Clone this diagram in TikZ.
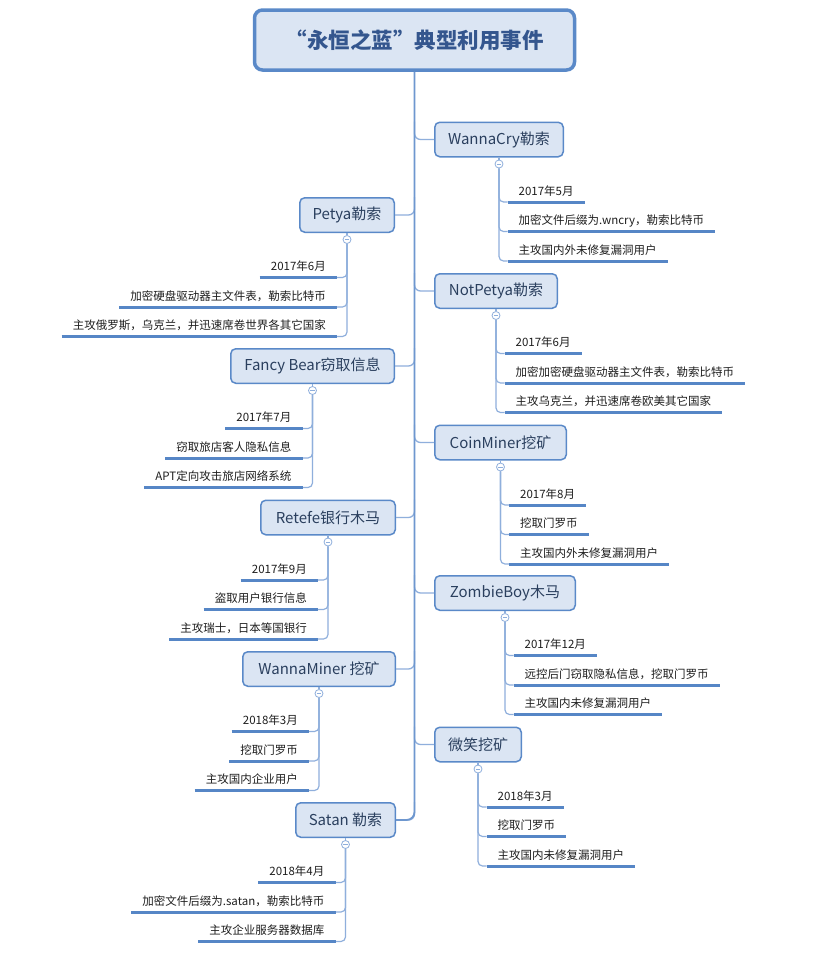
\documentclass[tikz,border=0pt]{standalone}
\usepackage{fontspec}
\setmainfont{Noto Sans CJK SC}
\usetikzlibrary{calc}
\definecolor{boxfill}{HTML}{DBE5F3}
\definecolor{boxline}{HTML}{5A89C8}
\definecolor{trunkc}{HTML}{6E97CF}
\definecolor{connc}{HTML}{8FAFDC}
\definecolor{ulc}{HTML}{5686C6}
\definecolor{titletext}{HTML}{34568E}
\definecolor{branchtext}{HTML}{2A3F5E}
\definecolor{leaftext}{HTML}{1E1E1E}

\newcommand{\mmR}[8]{%
  \node[branch, minimum width=#4] (#1) at (#2,#3) {#5};
  \draw[bconn, rounded corners=6pt] (title.south |- #1.north) |- (#1.west);
  \node[collapse] (#1c) at (#2,#3+24.5) {};
  \draw[lconn] (#1.south) -- (#1c.north);
  \node[leafR] (#1a) at (#2+8.5,#3+62.5) {#6};
  \node[leafR] (#1b) at (#2+8.5,#3+92) {#7};
  \node[leafR] (#1d) at (#2+8.5,#3+121.5) {#8};
  \foreach \l in {a,b,d} {
    \draw[lconn, rounded corners=4.5pt] (#1c.south) |- (#1\l.south west);
    \draw[uline] (#1\l.south west) -- (#1\l.south east);
  }%
}
\newcommand{\mmL}[8]{%
  \node[branch, minimum width=#4] (#1) at (#2,#3) {#5};
  \draw[bconn, rounded corners=6pt] (title.south |- #1.north) |- (#1.east);
  \node[collapse] (#1c) at (#2,#3+24.5) {};
  \draw[lconn] (#1.south) -- (#1c.north);
  \node[leafL] (#1a) at (#2-10,#3+62.5) {#6};
  \node[leafL] (#1b) at (#2-10,#3+92) {#7};
  \node[leafL] (#1d) at (#2-10,#3+121.5) {#8};
  \foreach \l in {a,b,d} {
    \draw[lconn, rounded corners=4.5pt] (#1c.south) |- (#1\l.south east);
    \draw[uline] (#1\l.south west) -- (#1\l.south east);
  }%
}

\begin{document}
\begin{tikzpicture}[x=1pt,y=-1pt,
  title/.style={draw=boxline, line width=3.5pt, fill=boxfill, rounded corners=8pt,
    minimum width=320pt, minimum height=60pt, inner sep=0pt,
    font=\fontsize{21.5}{24}\selectfont\bfseries, text=titletext},
  branch/.style={draw=boxline, line width=1.5pt, fill=boxfill, rounded corners=5pt,
    minimum height=34.5pt, inner sep=0pt,
    font=\fontsize{15}{18}\selectfont, text=branchtext},
  collapse/.style={circle, draw=connc, fill=white, line width=0.8pt,
    minimum size=8pt, inner sep=0pt,
    path picture={\draw[connc, line width=0.8pt]
      ($(path picture bounding box.center)+(-2.2,0)$) -- ++(4.4,0);}},
  leafR/.style={anchor=south west, inner xsep=11pt, inner ysep=6.5pt, text depth=0pt,
    font=\fontsize{11.5}{13}\selectfont, text=leaftext},
  leafL/.style={leafR, anchor=south east},
  bconn/.style={draw=connc, line width=1.3pt},
  lconn/.style={draw=connc, line width=1.2pt},
  trunk/.style={draw=trunkc, line width=1.8pt},
  uline/.style={draw=ulc, line width=3pt},
]
\fill[white] (0,0) rectangle (824,967);
\useasboundingbox (0,0) rectangle (824,967);

\node[title] (title) at (414.5,40) {“永恒之蓝”典型利用事件};

\mmR{wc}{499}{139.5}{128.5}{WannaCry勒索}{2017年5月}{加密文件后缀为.wncry，勒索比特币}{主攻国内外未修复漏洞用户}
\mmR{np}{496}{291}{122.5}{NotPetya勒索}{2017年6月}{加密加密硬盘驱动器主文件表，勒索比特币}{主攻乌克兰，并迅速席卷欧美其它国家}
\mmR{cm}{500.5}{442.5}{131.5}{CoinMiner挖矿}{2017年8月}{挖取门罗币}{主攻国内外未修复漏洞用户}
\mmR{zb}{505}{593}{140.5}{ZombieBoy木马}{2017年12月}{远控后门窃取隐私信息，挖取门罗币}{主攻国内未修复漏洞用户}
\mmR{wx}{478}{744.5}{86.5}{微笑挖矿}{2018年3月}{挖取门罗币}{主攻国内未修复漏洞用户}

\mmL{pe}{347}{215}{94.5}{Petya勒索}{2017年6月}{加密硬盘驱动器主文件表，勒索比特币}{主攻俄罗斯，乌克兰，并迅速席卷世界各其它国家}
\mmL{fb}{312.5}{366}{163.5}{Fancy Bear窃取信息}{2017年7月}{窃取旅店客人隐私信息}{APT定向攻击旅店网络系统}
\mmL{rt}{328}{517.5}{134.5}{Retefe银行木马}{2017年9月}{盗取用户银行信息}{主攻瑞士，日本等国银行}
\mmL{wm}{319}{669}{152.5}{WannaMiner 挖矿}{2018年3月}{挖取门罗币}{主攻国内企业用户}
\mmL{st}{345.5}{820}{99.5}{Satan 勒索}{2018年4月}{加密文件后缀为.satan，勒索比特币}{主攻企业服务器数据库}

\draw[trunk, rounded corners=8pt] (title.south) |- (st.east);
\end{tikzpicture}
\end{document}
